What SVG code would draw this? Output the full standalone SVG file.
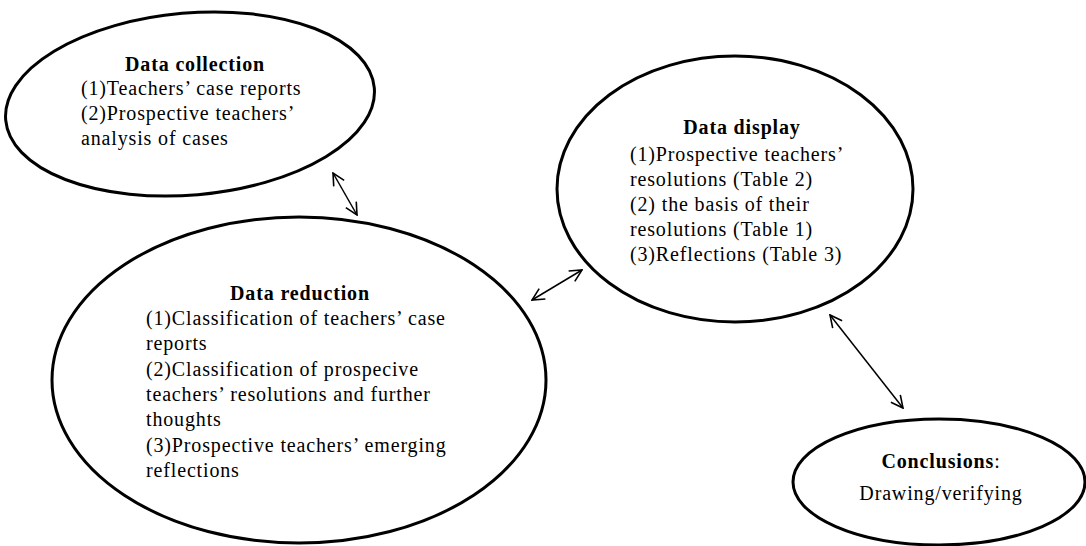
<svg xmlns="http://www.w3.org/2000/svg" width="1086" height="546" viewBox="0 0 1086 546">
<style>
.node ellipse{fill:#fff;stroke:#000;stroke-width:3}
text{font-family:"Liberation Serif","Times New Roman",serif;font-size:20px;fill:#000;letter-spacing:0.85px}
.t{font-weight:bold;text-anchor:middle}
.c{text-anchor:middle}
.conn line{stroke:#000;stroke-width:1.5;fill:none;marker-start:url(#ah);marker-end:url(#ah)}
</style>
<defs>
<marker id="ah" viewBox="0 0 14 14" refX="13" refY="7" markerWidth="14" markerHeight="14" markerUnits="userSpaceOnUse" orient="auto-start-reverse">
<path d="M1,1 L13,7 L1,13" fill="none" stroke="#000" stroke-width="1.6"/>
</marker>
</defs>
<g id="data-collection" class="node">
<ellipse cx="190" cy="104" rx="185" ry="91" transform="rotate(-5 190 104)"/>
<text class="t" x="195" y="71">Data collection</text>
<text x="81" y="95">(1)Teachers’ case reports</text>
<text x="81" y="120">(2)Prospective teachers’</text>
<text x="81" y="145">analysis of cases</text>
</g>
<g id="data-reduction" class="node">
<ellipse cx="299" cy="380" rx="247" ry="163"/>
<text class="t" x="300" y="300">Data reduction</text>
<text x="146" y="325">(1)Classification of teachers’ case</text>
<text x="146" y="350">reports</text>
<text x="146" y="376">(2)Classification of prospecive</text>
<text x="146" y="401">teachers’ resolutions and further</text>
<text x="146" y="426">thoughts</text>
<text x="146" y="452">(3)Prospective teachers’ emerging</text>
<text x="146" y="477">reflections</text>
</g>
<g id="data-display" class="node">
<ellipse cx="735" cy="189" rx="178" ry="133"/>
<text class="t" x="742" y="134">Data display</text>
<text x="630" y="161">(1)Prospective teachers’</text>
<text x="630" y="186">resolutions (Table 2)</text>
<text x="630" y="211">(2) the basis of their</text>
<text x="630" y="236">resolutions (Table 1)</text>
<text x="630" y="261">(3)Reflections (Table 3)</text>
</g>
<g id="conclusions" class="node">
<ellipse cx="939" cy="482" rx="146" ry="63"/>
<text class="c" x="941" y="468"><tspan font-weight="bold">Conclusions</tspan>:</text>
<text class="c" x="941" y="500">Drawing/verifying</text>
</g>
<g id="connectors" class="conn">
<line x1="333" y1="173" x2="357" y2="215"/>
<line x1="532" y1="300" x2="582" y2="270"/>
<line x1="830" y1="315" x2="903" y2="408"/>
</g>
</svg>
